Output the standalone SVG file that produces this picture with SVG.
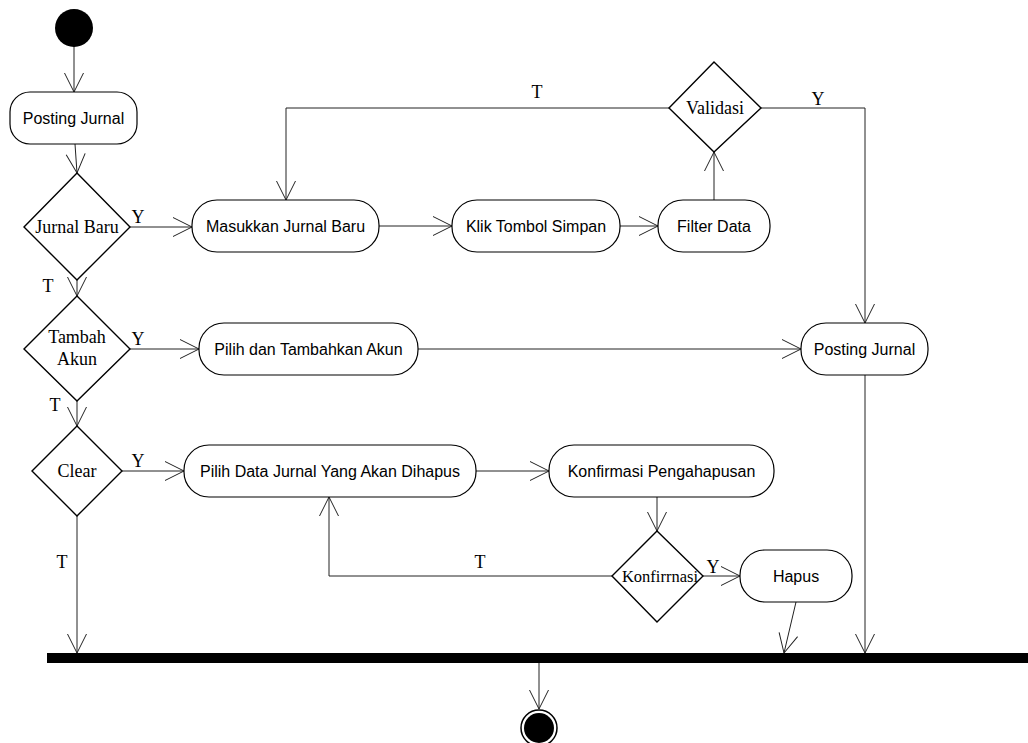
<svg xmlns="http://www.w3.org/2000/svg" width="1028" height="743" viewBox="0 0 1028 743">
  <defs>
    <marker id="arrow" markerUnits="userSpaceOnUse" markerWidth="24" markerHeight="24" viewBox="-22 -11 24 22" refX="0" refY="0" orient="auto">
      <path d="M-19,-9.5 L0,0 L-19,9.5" fill="none" stroke="#222" stroke-width="1"/>
    </marker>
  </defs>
  <style>
    .act { fill: #fff; stroke: #000; stroke-width: 1.2; }
    .dec { fill: #fff; stroke: #000; stroke-width: 1.4; }
    .lbl { font-family: "Liberation Sans", Arial, sans-serif; font-size: 16px; fill: #000; text-anchor: middle; }
    .dlbl { font-family: "Liberation Serif", "Times New Roman", serif; font-size: 18px; fill: #000; text-anchor: middle; }
    .guard { font-family: "Liberation Serif", "Times New Roman", serif; font-size: 18px; fill: #000; text-anchor: middle; }
    .flow { fill: none; stroke: #222; stroke-width: 1; }
  </style>
  <rect width="1028" height="743" fill="#fff"/>

  <!-- connectors -->
  <g id="connectors">
    <path class="flow" d="M74,46 L74,92" marker-end="url(#arrow)"/>
    <path class="flow" d="M75,144 L77,173" marker-end="url(#arrow)"/>
    <path class="flow" d="M130,227 L192,227" marker-end="url(#arrow)"/>
    <path class="flow" d="M379,226 L452,226" marker-end="url(#arrow)"/>
    <path class="flow" d="M620,226 L658,226" marker-end="url(#arrow)"/>
    <path class="flow" d="M714,200 L714,152" marker-end="url(#arrow)"/>
    <path class="flow" d="M669,108 L286,108 L286,200" marker-end="url(#arrow)"/>
    <path class="flow" d="M761,108 L865,108 L865,323" marker-end="url(#arrow)"/>
    <path class="flow" d="M77,280 L77,296" marker-end="url(#arrow)"/>
    <path class="flow" d="M130,349 L199,349" marker-end="url(#arrow)"/>
    <path class="flow" d="M418,349 L801,349" marker-end="url(#arrow)"/>
    <path class="flow" d="M77,401 L77,426" marker-end="url(#arrow)"/>
    <path class="flow" d="M122,471 L184,471" marker-end="url(#arrow)"/>
    <path class="flow" d="M476,471 L549,471" marker-end="url(#arrow)"/>
    <path class="flow" d="M657,497 L657,531" marker-end="url(#arrow)"/>
    <path class="flow" d="M612,576 L329,576 L329,497" marker-end="url(#arrow)"/>
    <path class="flow" d="M703,576 L740,576" marker-end="url(#arrow)"/>
    <path class="flow" d="M796,602 L784,653" marker-end="url(#arrow)"/>
    <path class="flow" d="M865,375 L865,653" marker-end="url(#arrow)"/>
    <path class="flow" d="M77,516 L77,653" marker-end="url(#arrow)"/>
    <path class="flow" d="M539,663 L539,709" marker-end="url(#arrow)"/>
    <!-- guard labels -->
    <text class="guard" x="138" y="223">Y</text>
    <text class="guard" x="48" y="292">T</text>
    <text class="guard" x="138" y="345">Y</text>
    <text class="guard" x="55" y="411">T</text>
    <text class="guard" x="138" y="467">Y</text>
    <text class="guard" x="62" y="568">T</text>
    <text class="guard" x="537" y="98">T</text>
    <text class="guard" x="818" y="105">Y</text>
    <text class="guard" x="480" y="568">T</text>
    <text class="guard" x="713" y="573">Y</text>
  </g>

  <g id="start">
    <circle cx="74" cy="28" r="19" fill="#000"/>
  </g>

  <g id="posting-jurnal-1">
    <rect class="act" x="10" y="92" width="127" height="52" rx="20"/>
    <text class="lbl" x="73.5" y="124">Posting Jurnal</text>
  </g>

  <g id="jurnal-baru">
    <polygon class="dec" points="77,173 130,227 77,280 24,227"/>
    <text class="dlbl" x="77" y="233">Jurnal Baru</text>
  </g>

  <g id="masukkan-jurnal-baru">
    <rect class="act" x="192" y="200" width="187" height="52" rx="25"/>
    <text class="lbl" x="285.5" y="232">Masukkan Jurnal Baru</text>
  </g>

  <g id="klik-tombol-simpan">
    <rect class="act" x="452" y="200" width="168" height="52" rx="25"/>
    <text class="lbl" x="536" y="232">Klik Tombol Simpan</text>
  </g>

  <g id="filter-data">
    <rect class="act" x="658" y="200" width="112" height="52" rx="25"/>
    <text class="lbl" x="714" y="232">Filter Data</text>
  </g>

  <g id="validasi">
    <polygon class="dec" points="714,62 761,108 714,152 669,108"/>
    <text class="dlbl" x="715" y="114">Validasi</text>
  </g>

  <g id="tambah-akun">
    <polygon class="dec" points="77,296 130,349 77,401 24,349"/>
    <text class="dlbl" x="77" y="343">Tambah</text>
    <text class="dlbl" x="77" y="365">Akun</text>
  </g>

  <g id="pilih-tambahkan-akun">
    <rect class="act" x="199" y="323" width="219" height="52" rx="25"/>
    <text class="lbl" x="308.5" y="355">Pilih dan Tambahkan Akun</text>
  </g>

  <g id="posting-jurnal-2">
    <rect class="act" x="801" y="323" width="127" height="52" rx="25"/>
    <text class="lbl" x="864.5" y="355">Posting Jurnal</text>
  </g>

  <g id="clear">
    <polygon class="dec" points="77,426 122,471 77,516 32,471"/>
    <text class="dlbl" x="77" y="477">Clear</text>
  </g>

  <g id="pilih-data-jurnal">
    <rect class="act" x="184" y="445" width="292" height="52" rx="25"/>
    <text class="lbl" x="330" y="477">Pilih Data Jurnal Yang Akan Dihapus</text>
  </g>

  <g id="konfirmasi-pengahapusan">
    <rect class="act" x="549" y="445" width="225" height="52" rx="25"/>
    <text class="lbl" x="661.5" y="477">Konfirmasi Pengahapusan</text>
  </g>

  <g id="konfirmasi">
    <polygon class="dec" points="657,531 703,576 657,622 612,576"/>
    <text class="dlbl" x="660" y="582" style="font-size:16.5px">Konfirrnasi</text>
  </g>

  <g id="hapus">
    <rect class="act" x="740" y="550" width="112" height="52" rx="25"/>
    <text class="lbl" x="796" y="582">Hapus</text>
  </g>

  <g id="join-bar">
    <rect x="47" y="653" width="981" height="10" fill="#000"/>
  </g>

  <g id="end">
    <circle cx="539" cy="728" r="18" fill="#fff" stroke="#000" stroke-width="1.5"/>
    <circle cx="539" cy="728" r="15" fill="#000"/>
  </g>
</svg>
